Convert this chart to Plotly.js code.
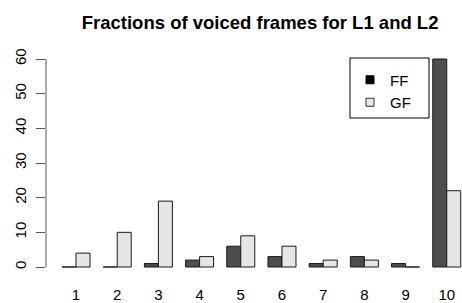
<!DOCTYPE html>
<html>
<head>
<meta charset="utf-8">
<script src="https://cdn.plot.ly/plotly-3.0.1.min.js"></script>
<style>html,body{margin:0;padding:0;background:#fff;}#chart{width:462px;height:303px;}</style>
</head>
<body>
<div id="chart"></div>
<script>
const categories = [1, 2, 3, 4, 5, 6, 7, 8, 9, 10];
const ffValues = [0, 0, 1, 2, 6, 3, 1, 3, 1, 60];
const gfValues = [4, 10, 19, 3, 9, 6, 2, 2, 0, 22];
const yTicks = [0, 10, 20, 30, 40, 50, 60];
const seriesNames = ['FF', 'GF'];

const font = 'Liberation Sans, Arial, Helvetica, sans-serif';

const traces = [
  {type: 'bar', x: categories, y: ffValues, name: seriesNames[0], showlegend: false,
   marker: {color: '#4d4d4d', line: {color: '#1a1a1a', width: 1}}},
  {type: 'bar', x: categories, y: gfValues, name: seriesNames[1], showlegend: false,
   marker: {color: '#e6e6e6', line: {color: '#1a1a1a', width: 1}}},
  {type: 'scatter', mode: 'markers', x: [null], y: [null], name: seriesNames[0],
   marker: {symbol: 'square', size: 8, color: '#000000', line: {color: '#000', width: 1}}},
  {type: 'scatter', mode: 'markers', x: [null], y: [null], name: seriesNames[1],
   marker: {symbol: 'square', size: 8, color: '#e6e6e6', line: {color: '#333', width: 1}}}
];

const layout = {
  width: 462, height: 303,
  margin: {l: 46, r: 0, t: 40, b: 23, pad: 0},
  paper_bgcolor: '#fff', plot_bgcolor: '#fff',
  font: {family: font, color: '#000', size: 15},
  title: {text: '<b>Fractions of voiced frames for L1 and L2</b>', font: {size: 18.5, family: font, color: '#000'},
          x: 0.563, xref: 'container', xanchor: 'center', y: 0.927, yref: 'container', yanchor: 'middle'},
  barmode: 'group', bargap: 0.32, bargroupgap: 0,
  xaxis: {range: [0.272, 10.37], tickvals: categories, ticktext: categories.map(String),
          showgrid: false, zeroline: false, showline: false, ticks: '', ticklabelstandoff: 4,
          tickfont: {size: 15, family: font, color: '#000'}, fixedrange: true},
  yaxis: {range: [-3.75, 65.48], tickvals: yTicks, showgrid: false, zeroline: false, showline: false,
          ticks: 'outside', ticklen: 9, tickcolor: '#555', tickwidth: 1, tickangle: -90,
          ticklabelstandoff: 4, tickfont: {size: 15, family: font, color: '#000'}, fixedrange: true},
  shapes: [
    {type: 'line', xref: 'paper', x0: 0, x1: 0, yref: 'y', y0: yTicks[0], y1: yTicks[yTicks.length - 1],
     line: {color: '#555', width: 1}},
    {type: 'rect', xref: 'paper', yref: 'paper', x0: 0.7308, x1: 0.9207, y0: 0.675, y1: 0.925,
     line: {color: '#000', width: 1}, fillcolor: 'rgba(0,0,0,0)', layer: 'above'}
  ],
  legend: {x: 0.7308, y: 0.902, xanchor: 'left', yanchor: 'top', bgcolor: 'rgba(0,0,0,0)',
           borderwidth: 0, font: {size: 15, family: font, color: '#000'},
           itemwidth: 30, tracegroupgap: 0}
};

Plotly.newPlot('chart', traces, layout, {displayModeBar: false, staticPlot: true});
</script>
</body>
</html>
